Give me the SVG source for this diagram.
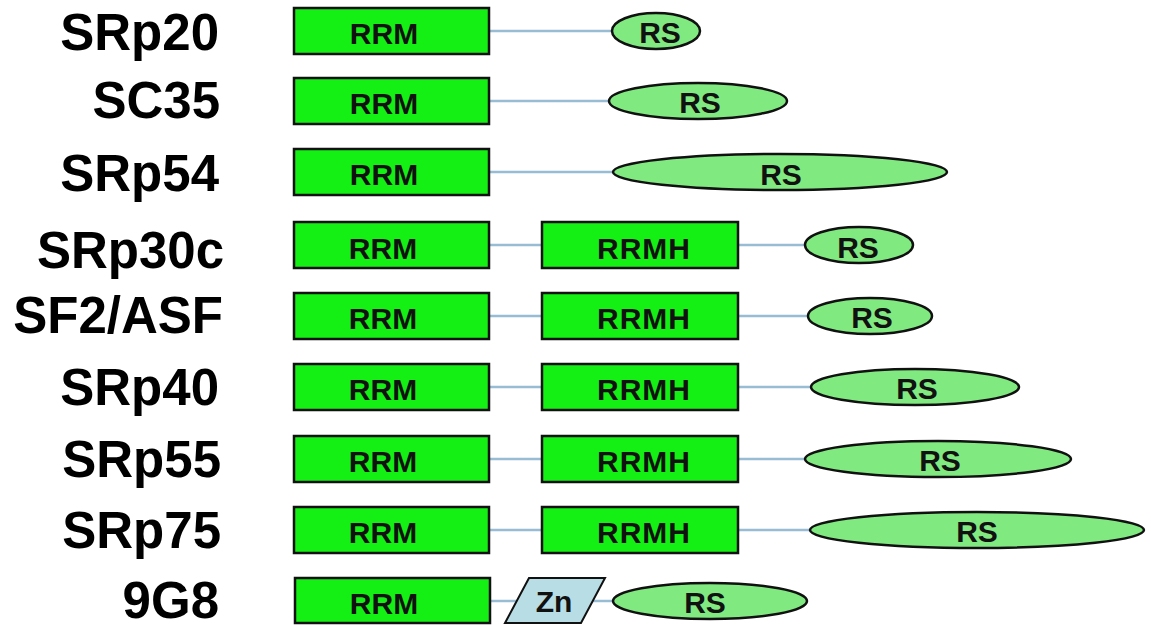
<svg xmlns="http://www.w3.org/2000/svg" width="1151" height="625" viewBox="0 0 1151 625">
<style>
.lbl{font-family:"Liberation Sans",Arial,sans-serif;font-weight:bold;font-size:51px;fill:#000;text-anchor:end}
.t{font-family:"Liberation Sans",Arial,sans-serif;font-weight:bold;font-size:30px;fill:#111;text-anchor:middle}
.rrm{fill:#14f014;stroke:#111;stroke-width:2.5}
.rs{fill:#80ea80;stroke:#111;stroke-width:2.5}
.zn{fill:#b8dde4;stroke:#111;stroke-width:2}
.ln{stroke:#98bcd4;stroke-width:2.5;fill:none}
</style>
<rect width="1151" height="625" fill="#fff"/>
<g id="connectors">
<line class="ln" x1="489" y1="31" x2="612" y2="31"/>
<line class="ln" x1="489" y1="101" x2="609" y2="101"/>
<line class="ln" x1="489" y1="172" x2="613" y2="172"/>
<line class="ln" x1="489" y1="245" x2="542" y2="245"/>
<line class="ln" x1="738" y1="245" x2="805" y2="245"/>
<line class="ln" x1="489" y1="316" x2="542" y2="316"/>
<line class="ln" x1="738" y1="316" x2="808" y2="316"/>
<line class="ln" x1="489" y1="387" x2="542" y2="387"/>
<line class="ln" x1="738" y1="387" x2="811" y2="387"/>
<line class="ln" x1="489" y1="459" x2="542" y2="459"/>
<line class="ln" x1="738" y1="459" x2="805" y2="459"/>
<line class="ln" x1="489" y1="530" x2="542" y2="530"/>
<line class="ln" x1="738" y1="530" x2="810" y2="530"/>
<line class="ln" x1="490" y1="601" x2="517" y2="601"/>
<line class="ln" x1="593" y1="601" x2="613" y2="601"/>
</g>
<g id="SRp20">
<text class="lbl" x="219" y="50">SRp20</text>
<rect class="rrm" x="294" y="8" width="195" height="46"/>
<text class="t" x="384" y="44">RRM</text>
<ellipse class="rs" cx="656" cy="31" rx="44" ry="18"/>
<text class="t" x="660" y="43">RS</text>
</g>
<g id="SC35">
<text class="lbl" x="220" y="118">SC35</text>
<rect class="rrm" x="294" y="78" width="195" height="46"/>
<text class="t" x="384" y="114">RRM</text>
<ellipse class="rs" cx="698" cy="101" rx="89" ry="18"/>
<text class="t" x="700" y="113">RS</text>
</g>
<g id="SRp54">
<text class="lbl" x="219" y="191">SRp54</text>
<rect class="rrm" x="294" y="149" width="195" height="46"/>
<text class="t" x="384" y="185">RRM</text>
<ellipse class="rs" cx="780" cy="172" rx="167" ry="18"/>
<text class="t" x="781" y="185">RS</text>
</g>
<g id="SRp30c">
<text class="lbl" x="224" y="268">SRp30c</text>
<rect class="rrm" x="294" y="222" width="195" height="46"/>
<text class="t" x="383" y="259">RRM</text>
<rect class="rrm" x="542" y="222" width="196" height="46"/>
<text class="t" x="644" y="259" letter-spacing="1">RRMH</text>
<ellipse class="rs" cx="859" cy="245" rx="54" ry="18"/>
<text class="t" x="858" y="258">RS</text>
</g>
<g id="SF2_ASF">
<text class="lbl" x="223" y="333">SF2/ASF</text>
<rect class="rrm" x="294" y="293" width="195" height="46"/>
<text class="t" x="383" y="329">RRM</text>
<rect class="rrm" x="542" y="293" width="196" height="46"/>
<text class="t" x="644" y="329" letter-spacing="1">RRMH</text>
<ellipse class="rs" cx="870" cy="316" rx="62" ry="18"/>
<text class="t" x="872" y="328">RS</text>
</g>
<g id="SRp40">
<text class="lbl" x="219" y="405">SRp40</text>
<rect class="rrm" x="294" y="364" width="195" height="46"/>
<text class="t" x="383" y="400">RRM</text>
<rect class="rrm" x="542" y="364" width="196" height="46"/>
<text class="t" x="644" y="400" letter-spacing="1">RRMH</text>
<ellipse class="rs" cx="915" cy="387" rx="104" ry="18"/>
<text class="t" x="917" y="399">RS</text>
</g>
<g id="SRp55">
<text class="lbl" x="221" y="477">SRp55</text>
<rect class="rrm" x="294" y="436" width="195" height="46"/>
<text class="t" x="383" y="472">RRM</text>
<rect class="rrm" x="542" y="436" width="196" height="46"/>
<text class="t" x="644" y="472" letter-spacing="1">RRMH</text>
<ellipse class="rs" cx="938" cy="459" rx="133" ry="18"/>
<text class="t" x="940" y="471">RS</text>
</g>
<g id="SRp75">
<text class="lbl" x="221" y="548">SRp75</text>
<rect class="rrm" x="294" y="507" width="195" height="46"/>
<text class="t" x="383" y="543">RRM</text>
<rect class="rrm" x="542" y="507" width="196" height="46"/>
<text class="t" x="644" y="543" letter-spacing="1">RRMH</text>
<ellipse class="rs" cx="977" cy="530" rx="167" ry="18"/>
<text class="t" x="977" y="542">RS</text>
</g>
<g id="9G8">
<text class="lbl" x="219" y="618">9G8</text>
<rect class="rrm" x="295" y="578" width="195" height="45"/>
<text class="t" x="384" y="614">RRM</text>
<polygon class="zn" points="529,578 605,578 581,623 505,623"/>
<text class="t" x="554" y="612">Zn</text>
<ellipse class="rs" cx="710" cy="601" rx="97" ry="18"/>
<text class="t" x="705" y="613">RS</text>
</g>
</svg>
